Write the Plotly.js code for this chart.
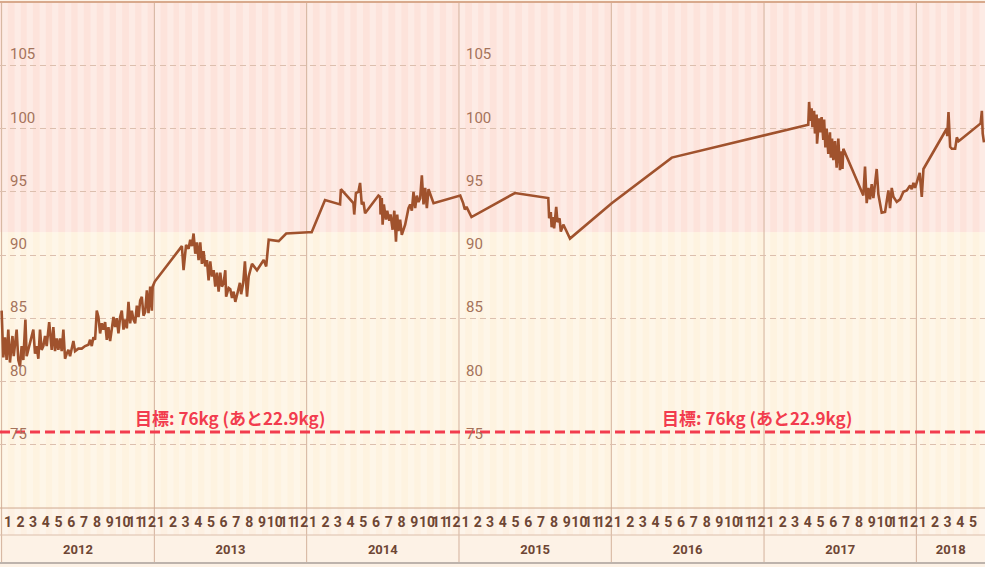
<!DOCTYPE html>
<html><head><meta charset="utf-8">
<script src="https://cdn.plot.ly/plotly-3.0.1.min.js"></script>
<style>html,body{margin:0;padding:0;background:#fdf2e6;overflow:hidden}#chart{width:985px;height:567px}</style>
</head><body><div id="chart"></div>
<script>
// ---- data ----
const dates2012 = ['2012-01-01','2012-01-05','2012-01-09','2012-01-13','2012-01-17','2012-01-21','2012-01-27','2012-01-30',
'2012-02-06','2012-02-10','2012-02-14','2012-02-18','2012-02-22','2012-02-27',
'2012-03-01','2012-03-09','2012-03-17','2012-03-21','2012-03-25','2012-03-29',
'2012-04-02','2012-04-06','2012-04-10','2012-04-14','2012-04-18','2012-04-24','2012-04-30',
'2012-05-04','2012-05-08','2012-05-12','2012-05-16','2012-05-20','2012-05-24','2012-05-28',
'2012-06-01','2012-06-05','2012-06-09','2012-06-13','2012-06-21','2012-06-25',
'2012-07-03','2012-07-11','2012-07-19','2012-07-27','2012-07-31',
'2012-08-04','2012-08-08','2012-08-12','2012-08-16','2012-08-20','2012-08-24','2012-08-28',
'2012-09-01','2012-09-05','2012-09-09','2012-09-13','2012-09-17','2012-09-25','2012-09-29',
'2012-10-03','2012-10-07','2012-10-11','2012-10-15','2012-10-19','2012-10-23','2012-10-27','2012-10-31',
'2012-11-04','2012-11-08','2012-11-12','2012-11-16','2012-11-20','2012-11-24','2012-11-28',
'2012-12-02','2012-12-06','2012-12-10','2012-12-14','2012-12-18','2012-12-22','2012-12-26','2012-12-28'];
const kg2012 = [85.6,81.9,83.5,81.7,84.1,81.5,83.6,82.0,
84.1,81.7,81.2,82.8,81.7,84.9,
82.0,83.0,84.1,82.2,82.8,81.8,
84.1,82.5,82.8,83.6,82.8,84.7,82.5,
84.3,82.4,83.4,82.5,83.4,82.4,84.1,
81.8,82.2,82.5,82.0,83.2,82.4,
82.6,82.6,82.8,82.9,83.3,
82.8,83.5,83.3,85.6,85.1,83.8,84.6,
84.1,84.7,83.3,84.3,83.2,85.1,84.3,
85.0,83.8,85.1,85.6,84.1,84.9,84.2,86.3,
84.6,85.6,84.9,84.6,86.0,85.1,86.4,
86.7,85.2,85.5,87.2,85.4,87.5,85.6,87.5];

const dates2013 = ['2013-01-02','2013-03-08','2013-03-12','2013-03-18','2013-03-24','2013-03-28',
'2013-04-01','2013-04-05','2013-04-09','2013-04-13','2013-04-17','2013-04-21','2013-04-25','2013-04-29',
'2013-05-03','2013-05-07','2013-05-11','2013-05-15','2013-05-19','2013-05-23','2013-05-27','2013-05-31',
'2013-06-04','2013-06-08','2013-06-12','2013-06-16','2013-06-20','2013-06-22','2013-06-28',
'2013-07-02','2013-07-06','2013-07-10','2013-07-14','2013-07-20','2013-07-25','2013-07-28',
'2013-08-02','2013-08-06','2013-08-11','2013-08-15','2013-08-23',
'2013-09-04','2013-09-20','2013-09-26','2013-10-02','2013-10-26','2013-11-13'];
const kg2013 = [87.9,90.7,88.8,90.8,90.5,91.2,
90.7,91.7,90.1,91.0,89.6,91.0,89.3,90.3,
89.1,89.6,88.0,89.5,88.3,88.8,87.5,88.6,
87.1,88.6,87.5,87.8,88.8,86.7,87.4,
87.3,86.6,87.1,86.3,87.1,87.8,86.9,
87.8,89.5,86.7,88.3,89.3,
88.8,89.6,89.1,91.2,91.1,91.7];

const dates2014 = ['2014-01-05','2014-01-13','2014-02-14','2014-03-22','2014-03-24',
'2014-04-23','2014-04-25','2014-04-29','2014-05-05','2014-05-09','2014-05-13','2014-05-17','2014-05-21',
'2014-06-22','2014-06-26','2014-06-27','2014-06-30','2014-07-02','2014-07-05','2014-07-10','2014-07-13',
'2014-07-18','2014-07-21','2014-07-26','2014-07-30','2014-08-03','2014-08-06','2014-08-09','2014-08-13',
'2014-08-17','2014-08-25','2014-09-02','2014-09-06','2014-09-10','2014-09-14','2014-09-18','2014-09-22',
'2014-09-26','2014-09-30','2014-10-04','2014-10-08','2014-10-12','2014-10-16','2014-10-20','2014-11-01'];
const kg2014 = [91.8,91.8,94.35,94.0,95.2,
94.1,93.2,94.9,95.0,95.7,94.0,94.2,93.3,
94.7,94.6,93.2,94.5,92.4,94.0,92.8,93.5,
92.7,93.2,92.0,93.5,91.05,93.2,91.9,92.8,
91.6,92.4,93.7,94.0,93.5,95.0,93.7,94.7,
94.2,94.5,96.3,94.0,95.3,93.7,95.2,94.1];

const dates2015 = ['2015-01-04','2015-01-11','2015-01-15','2015-01-19','2015-01-31','2015-05-15',
'2015-08-03','2015-08-05','2015-08-09','2015-08-11','2015-08-15','2015-08-17','2015-08-22','2015-08-25',
'2015-08-30','2015-09-02','2015-09-08','2015-09-14','2015-09-24'];
const kg2015 = [94.7,94.1,93.6,93.8,93.0,94.9,
94.5,92.9,93.4,92.2,93.0,92.1,93.8,92.6,
92.9,91.85,92.4,92.0,91.3];

const dates2016 = ['2016-01-02','2016-05-25'];
const kg2016 = [94.1,97.7];

const dates2017 = ['2017-04-17','2017-04-19','2017-04-22','2017-04-25','2017-04-27',
'2017-05-01','2017-05-03','2017-05-07','2017-05-08','2017-05-13','2017-05-16','2017-05-19','2017-05-23',
'2017-05-25','2017-05-28','2017-05-31','2017-06-04','2017-06-08','2017-06-10','2017-06-13','2017-06-16',
'2017-06-20','2017-06-24','2017-06-28','2017-07-02','2017-07-06','2017-07-08','2017-07-10',
'2017-08-27','2017-08-31','2017-09-04','2017-09-08','2017-09-12','2017-09-16','2017-09-20','2017-09-24',
'2017-09-28','2017-10-02','2017-10-06','2017-10-10','2017-10-18','2017-10-26','2017-10-30',
'2017-11-03','2017-11-07','2017-11-15','2017-11-23','2017-12-01','2017-12-09','2017-12-17',
'2017-12-21','2017-12-25','2017-12-29'];
const kg2017 = [100.3,102.1,100.6,101.6,100.1,
101.4,99.6,101.1,98.8,100.8,99.7,100.9,99.1,
100.7,98.5,100.0,98.0,99.7,97.7,99.2,97.5,
99.0,96.9,99.2,96.7,98.2,96.8,98.4,
94.7,97.0,94.1,95.3,94.4,95.6,94.5,95.6,
96.8,94.8,94.1,93.35,93.4,95.1,93.7,
95.3,94.6,94.2,94.4,95.0,95.1,95.5,
95.2,95.7,95.3];

const dates2018 = ['2018-01-02','2018-01-09','2018-01-14','2018-01-18','2018-03-15','2018-03-16',
'2018-03-19','2018-03-23','2018-03-27','2018-04-04','2018-04-08','2018-04-12','2018-04-16',
'2018-06-04','2018-06-07','2018-06-09','2018-06-12'];
const kg2018 = [95.8,96.5,94.6,96.8,100.0,99.4,
101.3,98.56,98.4,98.4,99.3,99.0,99.1,
100.4,101.4,99.6,98.9];

const yTickVals = [75, 80, 85, 90, 95, 100, 105];
const yearLabels = ['2012', '2013', '2014', '2015', '2016', '2017', '2018'];
const goalKg = 76;
const remainingKg = 22.9;
const overweightFrom = 91.8;
const goalLabel = '目標: ' + goalKg + 'kg (あと' + remainingKg + 'kg)';

// ---- build ----
const dates = [].concat(dates2012, dates2013, dates2014, dates2015, dates2016, dates2017, dates2018);
const kg = [].concat(kg2012, kg2013, kg2014, kg2015, kg2016, kg2017, kg2018);

const xRange = ['2011-12-28 03:00', '2018-06-14 12:00'];
const yRange = [70, 110];
const plotBottom = 0.098, monthRowBottom = 0.0499;
const numFont = 'Roboto, "Liberation Sans", sans-serif';

function ms(s){ return Date.parse(s.replace(' ', 'T') + (s.length > 10 ? ':00Z' : 'T00:00:00Z')); }
function fmt(t){ const d = new Date(t); const p = n => (n < 10 ? '0' : '') + n;
  return d.getUTCFullYear() + '-' + p(d.getUTCMonth()+1) + '-' + p(d.getUTCDate()) + ' ' + p(d.getUTCHours()) + ':' + p(d.getUTCMinutes()); }
const r0 = ms(xRange[0]), r1 = ms(xRange[1]);
// year labels centred on the visible part of each year
const yearTickVals = yearLabels.map(y => {
  const a = Math.max(ms(y + '-01-01'), r0), b = Math.min(ms((+y + 1) + '-01-01'), r1);
  return fmt((a + b) / 2);
});

const shapes = [];
shapes.push({type:'rect', xref:'paper', yref:'y', x0:0, x1:1, y0:overweightFrom, y1:yRange[1], fillcolor:'#fde3db', line:{width:0}, layer:'below'});
shapes.push({type:'rect', xref:'paper', yref:'y', x0:0, x1:1, y0:yRange[0], y1:overweightFrom, fillcolor:'#fef3e0', line:{width:0}, layer:'below'});
shapes.push({type:'rect', xref:'paper', yref:'paper', x0:0, x1:1, y0:monthRowBottom, y1:plotBottom, fillcolor:'#fdf0e2', line:{width:0}, layer:'below'});
function pad(n){return (n<10?'0':'')+n;}
for (let y = 2011; y <= 2018; y++) {
  for (let m = 1; m <= 12; m++) {
    if (y === 2011 && m < 12) continue;
    if (y === 2018 && m > 6) break;
    shapes.push({type:'rect', xref:'x', yref:'paper', x0:y+'-'+pad(m)+'-01', x1:y+'-'+pad(m)+'-16',
      y0:monthRowBottom, y1:1, fillcolor:'rgba(255,255,255,0.28)', line:{width:0}, layer:'below'});
  }
}
yearLabels.forEach(y => shapes.push({type:'line', xref:'x', yref:'paper', x0:y+'-01-01', x1:y+'-01-01', y0:0, y1:1,
  line:{color:'#d4b29c', width:1}, layer:'below'}));
shapes.push({type:'line', xref:'paper', yref:'paper', x0:0, x1:1, y0:plotBottom, y1:plotBottom, line:{color:'#cfa88f', width:1}, layer:'above'});
shapes.push({type:'line', xref:'paper', yref:'paper', x0:0, x1:1, y0:monthRowBottom, y1:monthRowBottom, line:{color:'#dcbfac', width:1}, layer:'above'});
shapes.push({type:'line', xref:'paper', yref:'paper', x0:0, x1:1, y0:0, y1:0, line:{color:'#bdb3ac', width:2}, layer:'above'});
shapes.push({type:'line', xref:'paper', yref:'paper', x0:0, x1:1, y0:1, y1:1, line:{color:'#d8a98c', width:2}, layer:'above'});
shapes.push({type:'line', xref:'paper', yref:'y', x0:0, x1:1, y0:goalKg, y1:goalKg, line:{color:'#f23c4e', width:3, dash:'10px,5px'}, layer:'above'});

const annotations = [];
[0.0081, 0.471].forEach(px => yTickVals.forEach(v => annotations.push({
  xref:'paper', yref:'y', x:px, y:v, xanchor:'left', yanchor:'bottom', showarrow:false,
  text:String(v), font:{family:numFont, size:15, color:'#a5735b'}
})));
['2013-07-02', '2016-12-15'].forEach(x => annotations.push({
  xref:'x', yref:'y', x:x, y:goalKg, yshift:15, xanchor:'center', yanchor:'middle', showarrow:false,
  text:goalLabel, font:{family:'"Noto Sans CJK JP", sans-serif', size:17, color:'#f23c4e', weight:700}
}));

const traces = [
  {type:'scatter', mode:'lines', x:dates, y:kg, xaxis:'x', yaxis:'y',
   line:{color:'#a0522d', width:2.6}, hoverinfo:'x+y', showlegend:false},
  {type:'scatter', mode:'lines', x:dates, y:kg, xaxis:'x2', yaxis:'y',
   line:{color:'rgba(0,0,0,0)', width:0}, hoverinfo:'skip', showlegend:false}
];

const layout = {
  width:985, height:567, margin:{l:0, r:0, t:2, b:4},
  paper_bgcolor:'#fdf2e6', plot_bgcolor:'rgba(0,0,0,0)',
  showlegend:false,
  xaxis:{type:'date', range:xRange, domain:[0,1], anchor:'y',
    dtick:'M1', tick0:'2012-01-01', tickformat:'%-m', ticklabelmode:'period', tickangle:0,
    ticks:'', showgrid:false, showline:false, zeroline:false, ticklabelstandoff:4,
    tickfont:{family:numFont, size:14, color:'#6e4634', weight:700}},
  xaxis2:{type:'date', range:xRange, overlaying:'x', matches:'x', anchor:'free', position:monthRowBottom, side:'bottom',
    tickmode:'array', tickvals:yearTickVals, ticktext:yearLabels, tickangle:0,
    ticks:'', showgrid:false, showline:false, zeroline:false, ticklabelstandoff:5,
    tickfont:{family:numFont, size:13, color:'#6e4634', weight:700}},
  yaxis:{range:yRange, domain:[plotBottom, 1], tickvals:yTickVals, showticklabels:false,
    showgrid:true, gridcolor:'#dcbfae', griddash:'6px,4px', gridwidth:1, zeroline:false, showline:false},
  shapes:shapes, annotations:annotations
};
Plotly.newPlot('chart', traces, layout, {displayModeBar:false, staticPlot:true});
</script></body></html>
